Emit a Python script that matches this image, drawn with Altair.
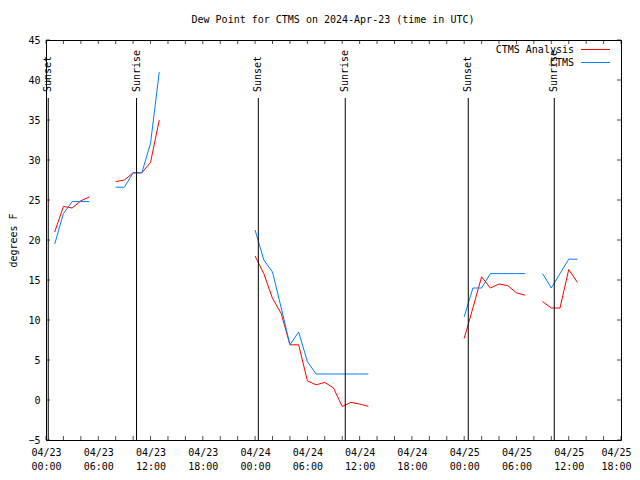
import altair as alt
import pandas as pd

# ---- data (hours since 2024-04-23 00:00 UTC) ----
seg_hours = [
    [1, 2, 3, 4, 5],
    [8, 9, 10, 11, 12, 13],
    [24, 25, 26, 27, 28, 29, 30, 31, 32, 33, 34, 35, 36, 37],
    [48, 49, 50, 51, 52, 53, 54, 55],
    [57, 58, 59, 60, 61],
]
analysis_vals = [
    [21.0, 24.2, 24.0, 24.9, 25.4],
    [27.3, 27.5, 28.4, 28.4, 29.7, 35.0],
    [18.0, 15.8, 12.7, 10.8, 6.9, 6.9, 2.4, 1.9, 2.2, 1.5, -0.8, -0.3, -0.5, -0.8],
    [7.7, 11.5, 15.4, 14.0, 14.5, 14.3, 13.4, 13.1],
    [12.3, 11.5, 11.5, 16.3, 14.7],
]
obs_vals = [
    [19.5, 23.3, 24.8, 24.8, 24.8],
    [26.6, 26.6, 28.4, 28.4, 32.1, 41.0],
    [21.25, 17.5, 16.0, 11.5, 6.9, 8.5, 4.8, 3.25, 3.25, 3.25, 3.25, 3.25, 3.25, 3.25],
    [10.4, 14.0, 14.0, 15.8, 15.8, 15.8, 15.8, 15.8],
    [15.8, 14.0, 15.8, 17.6, 17.6],
]
sun_hours = [0.26, 10.39, 24.37, 34.35, 48.47, 58.34]
sun_labels = ["Sunset", "Sunrise", "Sunset", "Sunrise", "Sunset", "Sunrise"]
x_label_values = [0, 6, 12, 18, 24, 30, 36, 42, 48, 54, 60, 66]
x_tick_values = list(range(0, 67, 2))
y_tick_values = [-5, 0, 5, 10, 15, 20, 25, 30, 35, 40, 45]

RED = "#ff0000"
BLUE = "#0080ff"
FONT = "DejaVu Sans Mono"
W, H = 575, 400

rows_a, rows_o = [], []
for s, (hs, av, ov) in enumerate(zip(seg_hours, analysis_vals, obs_vals)):
    for h, a, o in zip(hs, av, ov):
        rows_a.append({"hour": h, "seg": s, "value": a})
        rows_o.append({"hour": h, "seg": s, "value": o})
df_a = pd.DataFrame(rows_a)
df_o = pd.DataFrame(rows_o)
df_sun = pd.DataFrame({"hour": sun_hours, "label": sun_labels})
df_xt = pd.DataFrame({"hour": x_tick_values})
df_yt = pd.DataFrame({"value": y_tick_values})
df_one = pd.DataFrame({"k": [0]})

xscale = alt.Scale(domain=[0, 66], nice=False, zero=False)
yscale = alt.Scale(domain=[-5, 45], nice=False, zero=False)

label_expr = ("['04/' + (23 + floor(datum.value/24)), "
              "(datum.value % 24 < 10 ? '0' : '') + (datum.value % 24) + ':00']")

xaxis = alt.Axis(values=x_label_values, labelExpr=label_expr, ticks=False, domain=False,
                 grid=False, title=None, labelFont=FONT, labelFontSize=10, labelColor="black",
                 labelPadding=7, labelLineHeight=14, labelAngle=0, labelFlush=False,
                 labelOverlap=False,
                 labelOffset={"condition": {"test": "datum.value == 66", "value": -5}, "value": 0})
yaxis = alt.Axis(values=y_tick_values, ticks=False, domain=False, grid=False,
                 title="degrees F", titleFont=FONT, titleFontSize=10, titleFontWeight="normal",
                 titleColor="black", titleX=-33, titleY=200, titleAngle=270,
                 titleAlign="center", titleBaseline="middle",
                 labelFont=FONT, labelFontSize=10, labelColor="black", labelPadding=6)

X = alt.X("hour:Q", scale=xscale, axis=xaxis)
Y = alt.Y("value:Q", scale=yscale, axis=yaxis)

line_a = alt.Chart(df_a).mark_line(color=RED, strokeWidth=1).encode(x=X, y=Y, detail="seg:N")
line_o = alt.Chart(df_o).mark_line(color=BLUE, strokeWidth=1).encode(x=X, y=Y, detail="seg:N")

sun_rule = alt.Chart(df_sun).mark_rule(color="black", strokeWidth=1).encode(
    x=X, y=alt.value(58), y2=alt.value(H))
sun_text = alt.Chart(df_sun).mark_text(angle=270, align="left", baseline="middle",
                                       font=FONT, fontSize=10, color="black").encode(
    x=X, y=alt.value(52), text="label:N")

xt_bottom = alt.Chart(df_xt).mark_tick(color="black", thickness=1, size=4).encode(
    x=X, y=alt.value(H - 2))
xt_top = alt.Chart(df_xt).mark_tick(color="black", thickness=1, size=4).encode(
    x=X, y=alt.value(2))
yt_left = alt.Chart(df_yt).mark_tick(color="black", thickness=1, size=4).encode(
    y=Y, x=alt.value(2))
yt_right = alt.Chart(df_yt).mark_tick(color="black", thickness=1, size=4).encode(
    y=Y, x=alt.value(W - 2))

title = alt.Chart(df_one).mark_text(text="Dew Point for CTMS on 2024-Apr-23 (time in UTC)",
                                    font=FONT, fontSize=10, color="black",
                                    align="center", baseline="middle").encode(
    x=alt.value(287), y=alt.value(-20))

leg_t1 = alt.Chart(df_one).mark_text(text="CTMS Analysis", font=FONT, fontSize=10, color="black",
                                     align="right", baseline="middle").encode(
    x=alt.value(528), y=alt.value(10))
leg_t2 = alt.Chart(df_one).mark_text(text="CTMS", font=FONT, fontSize=10, color="black",
                                     align="right", baseline="middle").encode(
    x=alt.value(528), y=alt.value(23))
leg_l1 = alt.Chart(df_one).mark_rule(color=RED, strokeWidth=1).encode(
    x=alt.value(535), x2=alt.value(564), y=alt.value(9.5))
leg_l2 = alt.Chart(df_one).mark_rule(color=BLUE, strokeWidth=1).encode(
    x=alt.value(535), x2=alt.value(564), y=alt.value(22.5))

chart = alt.layer(
    line_a, line_o, sun_rule, sun_text, xt_bottom, xt_top, yt_left, yt_right,
    title, leg_t1, leg_t2, leg_l1, leg_l2,
).properties(
    width=W, height=H,
    autosize=alt.AutoSizeParams(type="none"),
    padding={"left": 38, "top": 32, "right": 11, "bottom": 32},
    background="white",
).configure_view(stroke="black", strokeWidth=1)

chart.save("out.html", embed_options={"renderer": "svg", "actions": False})
